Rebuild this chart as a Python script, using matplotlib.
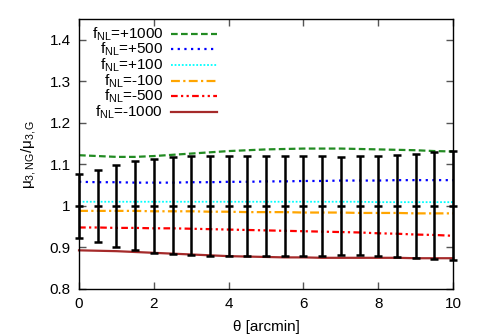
import numpy as np
import matplotlib
matplotlib.use("Agg")
import matplotlib.pyplot as plt
from matplotlib.lines import Line2D

plt.rcParams['font.family'] = ['Liberation Sans', 'DejaVu Sans']
plt.rcParams['mathtext.fontset'] = 'custom'
plt.rcParams['mathtext.rm'] = 'Liberation Sans'
plt.rcParams['mathtext.it'] = 'Liberation Sans'

theta = [0, 0.5, 1, 1.5, 2, 2.5, 3, 3.5, 4, 4.5, 5, 5.5, 6, 6.5, 7, 7.5, 8, 8.5, 9, 9.5, 10]

fnl_p1000 = [1.122, 1.120, 1.118, 1.118, 1.120, 1.123, 1.126, 1.129, 1.132, 1.134, 1.136,
             1.137, 1.138, 1.138, 1.138, 1.137, 1.136, 1.135, 1.134, 1.132, 1.131]
fnl_p500 = [1.058, 1.057, 1.057, 1.056, 1.056, 1.056, 1.057, 1.057, 1.058, 1.058, 1.059,
            1.059, 1.060, 1.060, 1.061, 1.061, 1.061, 1.062, 1.062, 1.062, 1.062]
fnl_p100 = [1.010, 1.010, 1.010, 1.010, 1.010, 1.010, 1.010, 1.010, 1.010, 1.010, 1.010,
            1.010, 1.010, 1.010, 1.010, 1.010, 1.009, 1.009, 1.009, 1.009, 1.009]
fnl_m100 = [0.988, 0.988, 0.988, 0.988, 0.987, 0.987, 0.987, 0.986, 0.986, 0.985, 0.985,
            0.985, 0.984, 0.984, 0.984, 0.983, 0.983, 0.983, 0.982, 0.982, 0.982]
fnl_m500 = [0.948, 0.948, 0.947, 0.947, 0.946, 0.946, 0.945, 0.944, 0.943, 0.942, 0.941,
            0.940, 0.939, 0.938, 0.937, 0.936, 0.934, 0.933, 0.931, 0.930, 0.928]
fnl_m1000 = [0.893, 0.892, 0.891, 0.889, 0.887, 0.885, 0.883, 0.881, 0.879, 0.878, 0.877,
             0.876, 0.876, 0.875, 0.875, 0.875, 0.875, 0.875, 0.874, 0.874, 0.874]

err_center = [1.0] * 21
err_half = [0.077, 0.087, 0.099, 0.107, 0.113, 0.117, 0.119, 0.120, 0.120, 0.120, 0.120,
            0.120, 0.120, 0.120, 0.118, 0.119, 0.121, 0.123, 0.126, 0.129, 0.131]

labels = ['f$_{\\rm NL}$=+1000', 'f$_{\\rm NL}$=+500', 'f$_{\\rm NL}$=+100',
          'f$_{\\rm NL}$=-100', 'f$_{\\rm NL}$=-500', 'f$_{\\rm NL}$=-1000']
series = [fnl_p1000, fnl_p500, fnl_p100, fnl_m100, fnl_m500, fnl_m1000]
colors = ['#228b22', '#0000ff', '#00ffff', '#ffa500', '#ff0000', '#a52a2a']
styles = [(0, (3, 1.5)), (0, (1, 2)), (0, (1, 1)), (0, (4, 1.5, 1, 1.5)),
          (0, (3, 1.5, 1, 1.5, 1, 1.5)), '-']
widths = [1.6, 1.6, 1.3, 1.6, 1.6, 1.6]

fig = plt.figure(figsize=(4.79, 3.36), dpi=100)
ax = fig.add_axes([0.165, 0.14, 0.781, 0.8035])

for y, c, ls, lw in zip(series, colors, styles, widths):
    ax.plot(theta, y, color=c, linestyle=ls, linewidth=lw, clip_on=False, zorder=2)

ax.errorbar(theta, err_center, yerr=err_half, fmt='_', color='black', ecolor='black',
            elinewidth=1.8, capsize=3, capthick=1.8, markersize=6, markeredgewidth=1.8,
            clip_on=False, zorder=3)

ax.set_xlim(0, 10)
ax.set_ylim(0.8, 1.45)
ax.set_xticks([0, 2, 4, 6, 8, 10])
ax.set_yticks([0.8, 0.9, 1.0, 1.1, 1.2, 1.3, 1.4])
ax.set_yticklabels(['0.8', '0.9', '1', '1.1', '1.2', '1.3', '1.4'])
ax.tick_params(direction='in', length=5, width=1, top=True, right=True, labelsize=11,
               color='#555555', pad=6)
for s in ax.spines.values():
    s.set_linewidth(1.0)

ax.set_xlabel('θ [arcmin]', fontsize=11, labelpad=6)
ax.set_ylabel('μ$_{\\rm 3,NG}$/μ$_{\\rm 3,G}$', fontsize=11, labelpad=8)

# legend: right-aligned text with sample line to the right
for i, (lab, c, ls, lw) in enumerate(zip(labels, colors, styles, widths)):
    yy = 0.945 - i * 0.058
    ax.text(0.225, yy, lab, transform=ax.transAxes, ha='right', va='center', fontsize=11)
    ax.add_line(Line2D([0.247, 0.368], [yy, yy], transform=ax.transAxes, color=c,
                       linestyle=ls, linewidth=lw))

fig.savefig('out.png', dpi=100)
